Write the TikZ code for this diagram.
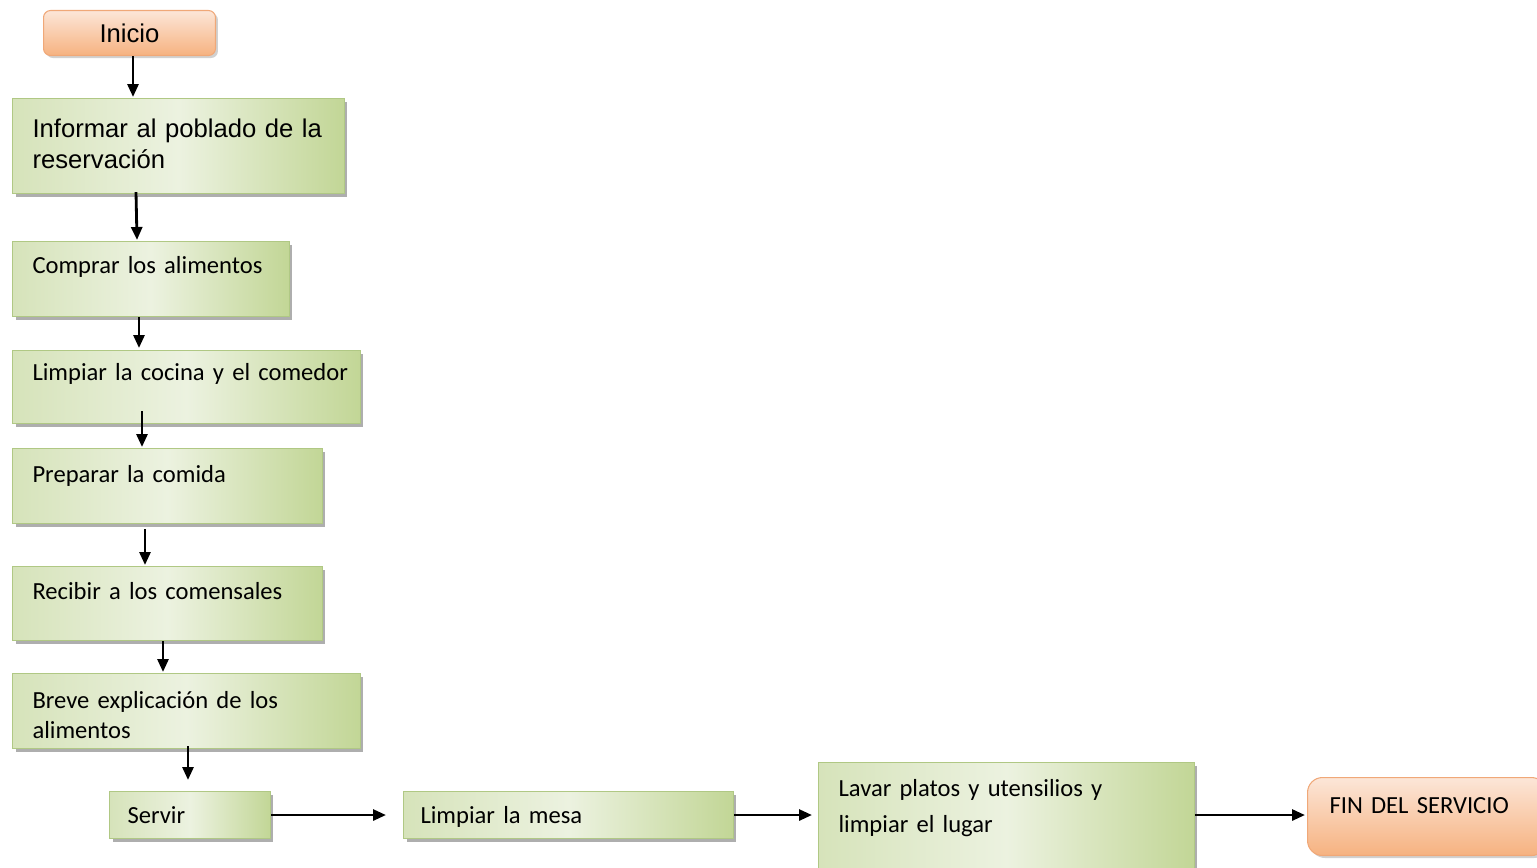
\documentclass[tikz,border=0pt]{standalone}
\usepackage{fontspec}
\setmainfont{Carlito}[WordSpace=0.72]
\newfontfamily\arialfont{Liberation Sans}
\usetikzlibrary{positioning,arrows.meta,calc,shadows}
\definecolor{StepEdge}{RGB}{176,200,132}
\definecolor{StepLeft}{RGB}{214,227,186}
\definecolor{StepMid}{RGB}{236,242,224}
\definecolor{StepRight}{RGB}{194,214,150}
\definecolor{EndEdge}{RGB}{240,168,120}
\definecolor{EndTop}{RGB}{252,230,216}
\definecolor{EndBottom}{RGB}{246,178,128}

\begin{document}
\begin{tikzpicture}[x=0.02cm,y=-0.02cm, every node/.style={font=\fontsize{14}{20}\selectfont}]
\tikzset{
  stepbox/.style={draw=StepEdge, line width=0.6pt, left color=StepLeft, right color=StepRight, middle color=StepMid,
    drop shadow={shadow xshift=0.06cm, shadow yshift=-0.06cm, fill=black!45, opacity=0.7},
    anchor=north west, align=left, inner xsep=0.4cm, inner ysep=0pt},
  endbox/.style={draw=EndEdge, line width=0.6pt, top color=EndTop, bottom color=EndBottom,
    drop shadow={shadow xshift=0.05cm, shadow yshift=-0.05cm, fill=black!30, opacity=0.6},
    anchor=north west},
  flow/.style={-{Triangle[length=0.26cm,width=0.22cm]}, line width=1.6pt}
}
\useasboundingbox (0,0) rectangle (1537,868);

% start and end
\node[endbox, rounded corners=0.14cm, minimum width=3.44cm, minimum height=0.9cm,
  font=\arialfont\fontsize{14.6}{18}\selectfont] (inicio) at (43,10) {Inicio};
\node[endbox, rounded corners=0.3cm, align=left, inner xsep=0.44cm, inner ysep=0pt,
  text width=3.9cm, text height=0.72cm, text depth=0.84cm] (fin) at (1307,777) {FIN DEL SERVICIO};

% steps, top to bottom
\node[stepbox, text width=5.84cm, text height=0.78cm, text depth=1.12cm,
  font=\arialfont\fontsize{14.6}{17.6}\selectfont] (informar) at (12,98)
  {Informar al poblado de la\\reservación};
\node[stepbox, text width=4.74cm, text height=0.64cm, text depth=0.86cm] (comprar) at (12,241)
  {Comprar los alimentos};
\node[stepbox, text width=6.16cm, text height=0.6cm, text depth=0.86cm] (cocina) at (12,350)
  {\mbox{Limpiar la cocina y el comedor}};
\node[stepbox, text width=5.4cm, text height=0.68cm, text depth=0.82cm] (preparar) at (12,448)
  {Preparar la comida};
\node[stepbox, text width=5.4cm, text height=0.66cm, text depth=0.82cm] (recibir) at (12,566)
  {Recibir a los comensales};
\node[stepbox, text width=6.16cm, text height=0.7cm, text depth=0.8cm,
  font=\fontsize{14}{16.8}\selectfont] (breve) at (12,673)
  {Breve explicación de los\\alimentos};
\node[stepbox, inner xsep=0.36cm, text width=2.5cm, text height=0.64cm, text depth=0.3cm] (servir) at (109,791)
  {Servir};
\node[stepbox, inner xsep=0.34cm, text width=5.92cm, text height=0.64cm, text depth=0.3cm] (mesa) at (403,791)
  {Limpiar la mesa};
\node[stepbox, text width=6.72cm, text height=0.68cm, text depth=1.6cm,
  font=\fontsize{14}{20.6}\selectfont] (lavar) at (818,762)
  {Lavar platos y utensilios y\\limpiar el lugar};

% connectors
\draw[flow] ($(inicio.south west)+(90,0)$) -- ($(informar.north west)+(121,-1)$);
\draw[flow] ($(informar.south west)+(124,-2)$) -- ($(comprar.north west)+(125,-1)$);
\draw[flow] ($(comprar.south west)+(127,0)$) -- ($(cocina.north west)+(127,-2)$);
\draw[flow] ($(cocina.south west)+(130,-13)$) -- ($(preparar.north west)+(130,-1)$);
\draw[flow] ($(preparar.south west)+(133,5)$) -- ($(recibir.north west)+(133,-1)$);
\draw[flow] ($(recibir.south west)+(151,0)$) -- ($(breve.north west)+(151,-1)$);
\draw[flow] ($(breve.south west)+(176,-3)$) -- ($(servir.north west)+(79,-11)$);
\draw[flow, shorten >=0.34cm] (servir.east) -- (mesa.west);
\draw[flow, shorten >=0.12cm] (mesa.east) -- (mesa.east -| lavar.west);
\draw[flow, shorten >=0.04cm] (mesa.east -| lavar.east) -- (mesa.east -| fin.west);
\end{tikzpicture}
\end{document}
